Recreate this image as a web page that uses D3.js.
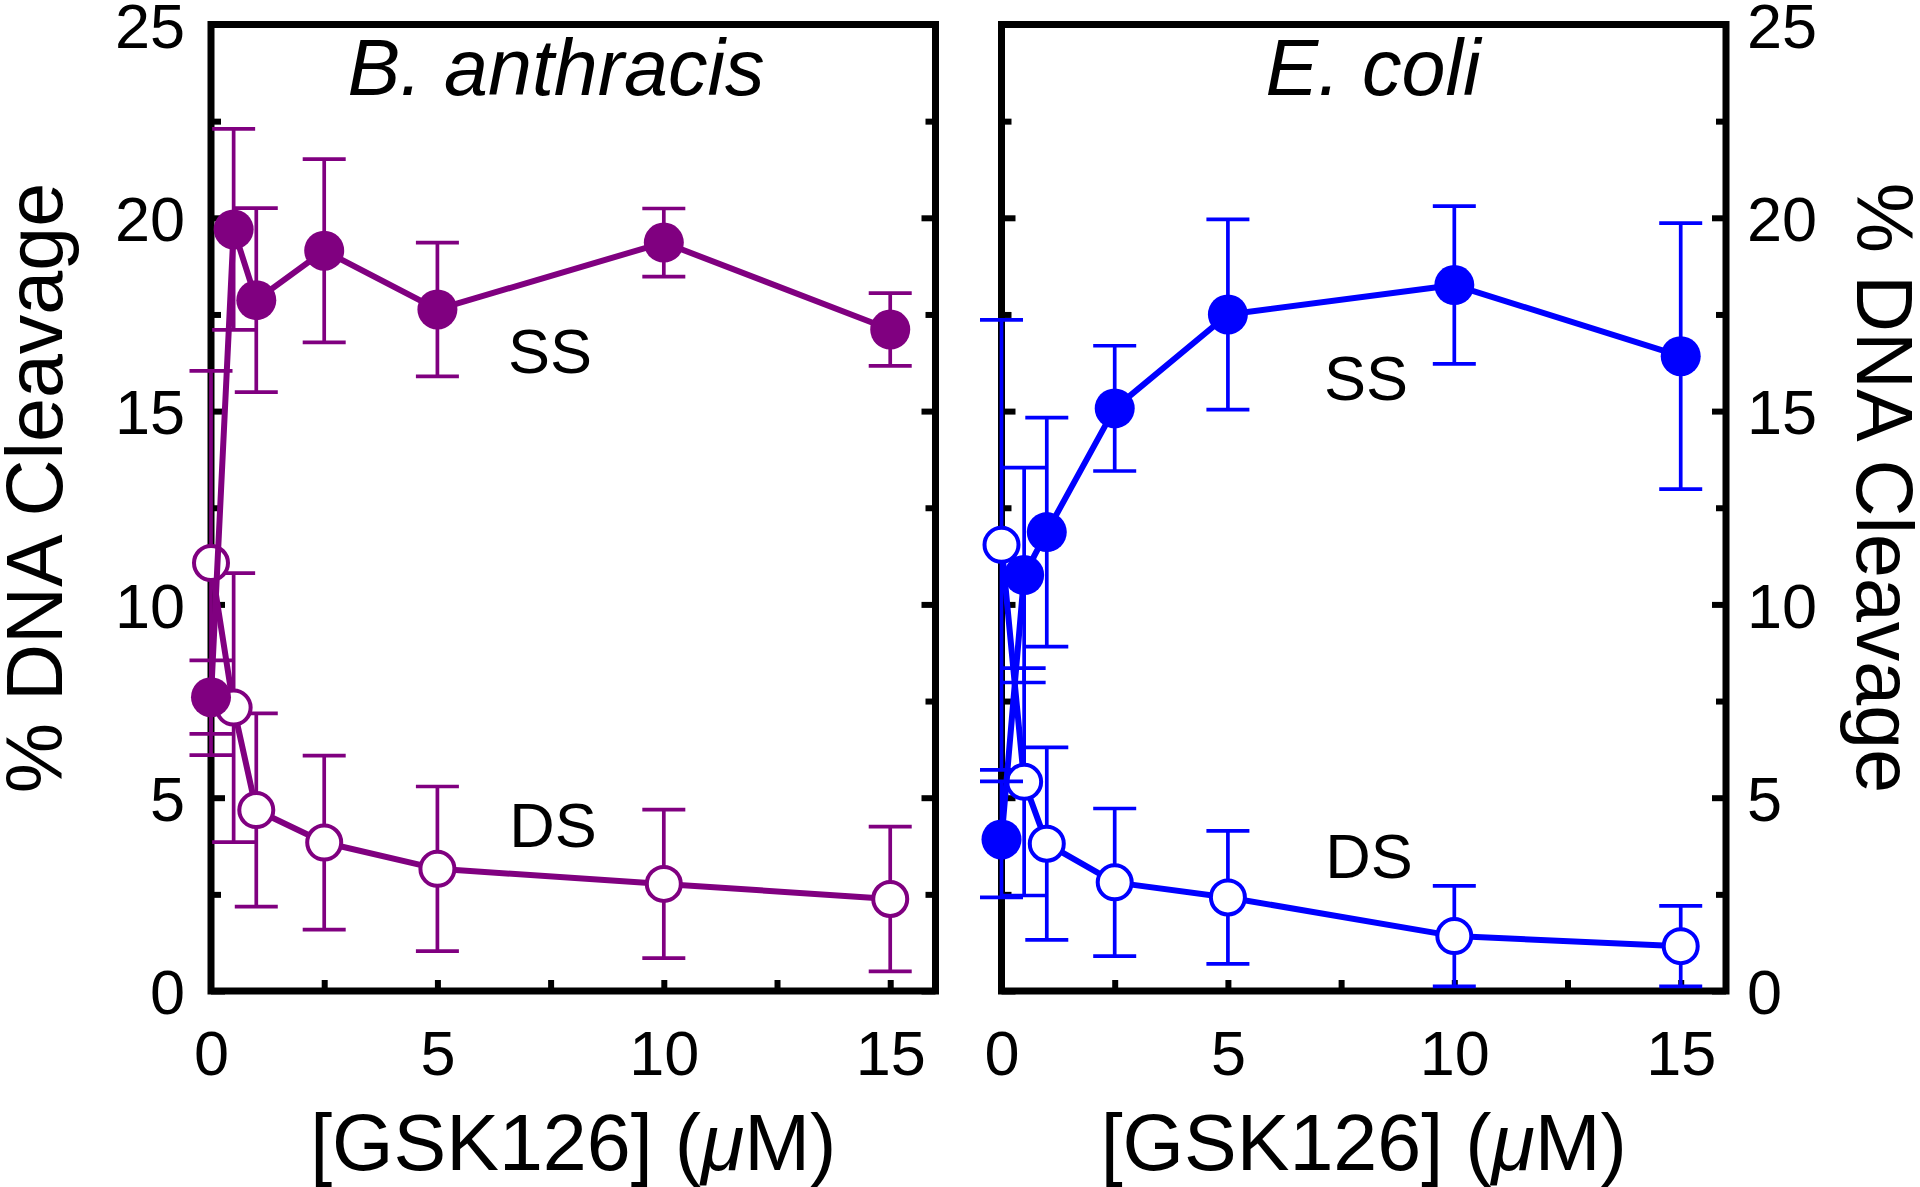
<!DOCTYPE html>
<html>
<head>
<meta charset="utf-8">
<script src="https://cdn.jsdelivr.net/npm/d3@7"></script>
<style>
  html, body { margin: 0; padding: 0; background: #ffffff; }
  svg text { font-family: "Liberation Sans", Arial, Helvetica, sans-serif; fill: #000; }
</style>
</head>
<body>
<svg id="chart" width="1920" height="1187"></svg>
<script>
// ---------------- data ----------------
const concentrations = [0, 0.5, 1, 2.5, 5, 10, 15];

const baSS    = [7.6, 19.7, 17.87, 19.15, 17.63, 19.36, 17.11];
const baSSErr = [0.95, 2.6, 2.38, 2.37, 1.73, 0.88, 0.94];
const baDS    = [11.07, 7.33, 4.68, 3.84, 3.16, 2.77, 2.38];
const baDSErr = [4.97, 3.48, 2.5, 2.25, 2.13, 1.92, 1.87];

const ecSS    = [3.92, 10.76, 11.87, 15.07, 17.5, 18.26, 16.42];
const ecSSErr = [1.5, 2.78, 2.96, 1.62, 2.46, 2.04, 3.44];
const ecDS    = [11.54, 5.41, 3.81, 2.81, 2.42, 1.42, 1.16];
const ecDSErr = [5.82, 2.94, 2.49, 1.91, 1.72, 1.3, 1.04];

const yMajorTicks = [0, 5, 10, 15, 20, 25];
const yMinorTicks = [2.5, 7.5, 12.5, 17.5, 22.5];
const xLabelTicks = [0, 5, 10, 15];
const xMarkTicks  = [2.5, 5, 7.5, 10, 12.5, 15];

const panelTitles = ["B. anthracis", "E. coli"];
const seriesLabels = ["SS", "DS"];
const xAxisTitle = "[GSK126] (";
const xAxisUnit = "\u03BC";
const yAxisTitle = "% DNA Cleavage";

// ---------------- layout ----------------
const svg = d3.select("#chart");
const Y_BOTTOM = 991, Y_TOP = 24.5;
const TICK_FONT = 63, TITLE_FONT = 79;

const panels = [
  { x0: 211, x1: 935.5, color: "#800080", ss: baSS, ssErr: baSSErr, ds: baDS, dsErr: baDSErr,
    title: panelTitles[0], titleX: 556, labelSide: "left",
    ssLabel: [550, 373], dsLabel: [553, 847], yTitleX: 62, yTitleRot: -90 },
  { x0: 1001.5, x1: 1726, color: "#0000ff", ss: ecSS, ssErr: ecSSErr, ds: ecDS, dsErr: ecDSErr,
    title: panelTitles[1], titleX: 1373, labelSide: "right",
    ssLabel: [1366, 400], dsLabel: [1369, 878], yTitleX: 1857, yTitleRot: 90 }
];

panels.forEach(p => {
  const x = d3.scaleLinear().domain([0, 16]).range([p.x0, p.x1]);
  const y = d3.scaleLinear().domain([0, 25]).range([Y_BOTTOM, Y_TOP]);
  const g = svg.append("g");

  // frame
  g.append("rect")
    .attr("x", p.x0).attr("y", Y_TOP)
    .attr("width", p.x1 - p.x0).attr("height", Y_BOTTOM - Y_TOP)
    .attr("fill", "none").attr("stroke", "#000").attr("stroke-width", 7);

  function styleAxis(sel) {
    sel.select(".domain").remove();
    sel.selectAll(".tick line").attr("stroke", "#000").attr("stroke-width", 6);
    sel.selectAll(".tick text")
      .attr("font-size", TICK_FONT)
      .attr("font-family", "Liberation Sans, Arial, sans-serif")
      .attr("fill", "#000");
  }

  // left edge ticks
  const leftMajor = g.append("g").attr("transform", `translate(${p.x0},0)`)
    .call(d3.axisLeft(y).tickValues(yMajorTicks).tickSize(-14).tickPadding(26)
      .tickFormat(p.labelSide === "left" ? d3.format("d") : () => ""));
  styleAxis(leftMajor);
  leftMajor.selectAll(".tick text").attr("dy", "0.36em");
  const leftMinor = g.append("g").attr("transform", `translate(${p.x0},0)`)
    .call(d3.axisLeft(y).tickValues(yMinorTicks).tickSize(-10).tickFormat(() => ""));
  styleAxis(leftMinor);

  // right edge ticks
  const rightMajor = g.append("g").attr("transform", `translate(${p.x1},0)`)
    .call(d3.axisRight(y).tickValues(yMajorTicks).tickSize(-14).tickPadding(21)
      .tickFormat(p.labelSide === "right" ? d3.format("d") : () => ""));
  styleAxis(rightMajor);
  rightMajor.selectAll(".tick text").attr("dy", "0.36em");
  const rightMinor = g.append("g").attr("transform", `translate(${p.x1},0)`)
    .call(d3.axisRight(y).tickValues(yMinorTicks).tickSize(-10).tickFormat(() => ""));
  styleAxis(rightMinor);

  // bottom ticks
  const bottomMarks = g.append("g").attr("transform", `translate(0,${Y_BOTTOM})`)
    .call(d3.axisBottom(x).tickValues(xMarkTicks).tickSize(-11).tickFormat(() => ""));
  styleAxis(bottomMarks);
  const bottomLabels = g.append("g").attr("transform", `translate(0,${Y_BOTTOM})`)
    .call(d3.axisBottom(x).tickValues(xLabelTicks).tickSize(0).tickPadding(39).tickFormat(d3.format("d")));
  styleAxis(bottomLabels);

  // panel title
  g.append("text")
    .attr("x", p.titleX).attr("y", 95)
    .attr("text-anchor", "middle")
    .attr("font-size", TITLE_FONT).attr("font-style", "italic")
    .text(p.title);

  // x-axis title
  const xt = g.append("text")
    .attr("x", (p.x0 + p.x1) / 2).attr("y", 1170)
    .attr("text-anchor", "middle")
    .attr("font-size", TITLE_FONT);
  xt.append("tspan").text(xAxisTitle);
  xt.append("tspan").attr("font-style", "italic").text(xAxisUnit);
  xt.append("tspan").text("M)");

  // y-axis title
  g.append("text")
    .attr("transform", `translate(${p.yTitleX},488) rotate(${p.yTitleRot})`)
    .attr("text-anchor", "middle")
    .attr("font-size", TITLE_FONT)
    .text(yAxisTitle);

  // series labels
  g.append("text").attr("x", p.ssLabel[0]).attr("y", p.ssLabel[1])
    .attr("text-anchor", "middle").attr("font-size", TICK_FONT).text(seriesLabels[0]);
  g.append("text").attr("x", p.dsLabel[0]).attr("y", p.dsLabel[1])
    .attr("text-anchor", "middle").attr("font-size", TICK_FONT).text(seriesLabels[1]);

  const line = d3.line().x(d => x(d.c)).y(d => y(d.v));

  function drawSeries(vals, errs, filled) {
    const data = concentrations.map((c, i) => ({ c, v: vals[i], e: errs[i] }));
    const sg = g.append("g");
    sg.append("path").datum(data)
      .attr("d", line)
      .attr("fill", "none").attr("stroke", p.color)
      .attr("stroke-width", 6).attr("stroke-linejoin", "round");
    const eb = sg.append("g").selectAll("g").data(data).join("g");
    eb.append("line")
      .attr("x1", d => x(d.c)).attr("x2", d => x(d.c))
      .attr("y1", d => y(d.v + d.e)).attr("y2", d => y(d.v - d.e))
      .attr("stroke", p.color).attr("stroke-width", 3.7);
    eb.append("line")
      .attr("x1", d => x(d.c) - 21.5).attr("x2", d => x(d.c) + 21.5)
      .attr("y1", d => y(d.v + d.e)).attr("y2", d => y(d.v + d.e))
      .attr("stroke", p.color).attr("stroke-width", 3.7);
    eb.append("line")
      .attr("x1", d => x(d.c) - 21.5).attr("x2", d => x(d.c) + 21.5)
      .attr("y1", d => y(d.v - d.e)).attr("y2", d => y(d.v - d.e))
      .attr("stroke", p.color).attr("stroke-width", 3.7);
    sg.append("g").selectAll("circle").data(data).join("circle")
      .attr("cx", d => x(d.c)).attr("cy", d => y(d.v))
      .attr("r", filled ? 20 : 17)
      .attr("fill", filled ? p.color : "#ffffff")
      .attr("stroke", p.color)
      .attr("stroke-width", filled ? 0 : 4);
  }

  drawSeries(p.ds, p.dsErr, false);
  drawSeries(p.ss, p.ssErr, true);
});
</script>
</body>
</html>
